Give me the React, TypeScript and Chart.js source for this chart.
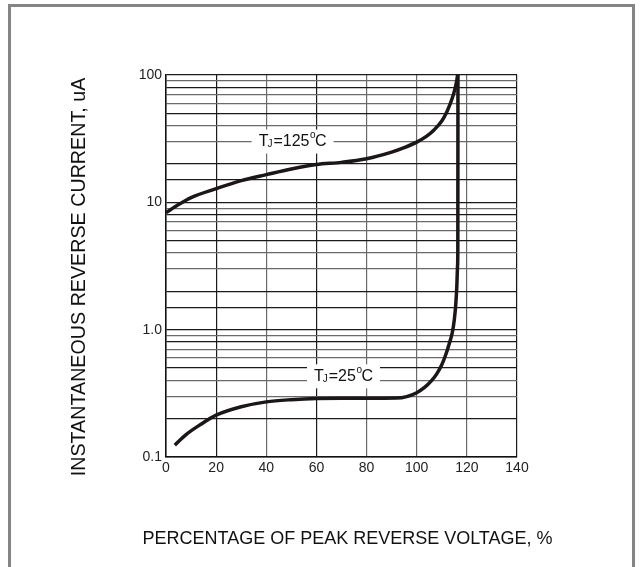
import React, { useEffect, useRef } from 'react';
import { Chart, registerables } from 'chart.js';
Chart.register(...registerables);

// ---------- data ----------
const xTickValues = [0, 20, 40, 60, 80, 100, 120, 140];
const yTickValues = [0.1, 1, 10, 100];
const yTickLabels = ['0.1', '1.0', '10', '100'];

const x125 = [0, 5, 10, 20, 30, 40, 50, 60, 70, 80, 90, 95, 100, 104, 107, 110, 112, 113.5, 114.7, 115.5, 116, 116.3];
const y125 = [8.3, 9.6, 10.9, 12.8, 14.8, 16.5, 18.3, 19.8, 20.6, 22, 24.8, 26.9, 29.7, 33.1, 37.2, 43.6, 51.3, 60.3, 70.8, 81.3, 91.2, 100];

const x25 = [3.5, 8, 13.4, 20, 30, 40, 50, 60, 70, 80, 92, 96, 100, 103, 106, 108, 110, 111.5, 113, 114.2, 115, 115.6, 116, 116.3, 116.4, 116.45];
const y25 = [0.124, 0.15, 0.178, 0.213, 0.248, 0.271, 0.282, 0.288, 0.289, 0.289, 0.29, 0.298, 0.32, 0.35, 0.4, 0.45, 0.53, 0.63, 0.78, 0.95, 1.2, 1.6, 2.2, 3.2, 4.5, 100];

const curveLabels = [
  { x: 50.5, y: 30, main: 'T', sub: 'J', rest: '=125', sup: 'o', unit: 'C' },
  { x: 70.8, y: 0.43, main: 'T', sub: 'J', rest: '=25', sup: 'o', unit: 'C' },
];

const xTitle = 'PERCENTAGE OF PEAK REVERSE VOLTAGE, %';
const yTitle = 'INSTANTANEOUS REVERSE CURRENT, uA';

const FONT = '"Liberation Sans", Arial, sans-serif';
const LINE = '#1c1616';

const decorPlugin = {
  id: 'decor',
  beforeDatasetsDraw(chart: any) {
    const ctx = chart.ctx;
    const xs = chart.scales.x;
    const ys = chart.scales.y;
    ctx.save();
    for (const l of curveLabels) {
      const big = '16px ' + FONT;
      const small = '10px ' + FONT;
      ctx.font = big;
      const wT = ctx.measureText(l.main).width;
      const wR = ctx.measureText(l.rest).width;
      const wC = ctx.measureText(l.unit).width;
      ctx.font = small;
      const wJ = ctx.measureText(l.sub).width;
      const wO = ctx.measureText(l.sup).width;
      const total = wT + wJ + wR + wO + wC;
      const cx = xs.getPixelForValue(l.x);
      const cy = ys.getPixelForValue(l.y);
      ctx.fillStyle = '#ffffff';
      ctx.fillRect(cx - total / 2 - 7, cy - 12, total + 14, 24);
      ctx.fillStyle = '#111';
      ctx.textBaseline = 'middle';
      ctx.textAlign = 'left';
      let px = cx - total / 2;
      ctx.font = big;
      ctx.fillText(l.main, px, cy);
      px += wT;
      ctx.font = small;
      ctx.fillText(l.sub, px - 1, cy + 3);
      px += wJ;
      ctx.font = big;
      ctx.fillText(l.rest, px, cy);
      px += wR;
      ctx.font = small;
      ctx.fillText(l.sup, px + 0.5, cy - 6);
      px += wO;
      ctx.font = big;
      ctx.fillText(l.unit, px, cy);
    }
    ctx.restore();
  },
  afterDraw(chart: any) {
    const ctx = chart.ctx;
    ctx.save();
    // frame
    ctx.strokeStyle = '#858585';
    ctx.lineWidth = 3;
    ctx.beginPath();
    ctx.moveTo(9.5, 567);
    ctx.lineTo(9.5, 5.5);
    ctx.lineTo(633.5, 5.5);
    ctx.lineTo(633.5, 567);
    ctx.stroke();
    // titles
    ctx.fillStyle = '#111';
    ctx.textAlign = 'center';
    ctx.textBaseline = 'middle';
    ctx.font = '18px ' + FONT;
    ctx.fillText(xTitle, 347.5, 539);
    ctx.translate(80, 277);
    ctx.rotate(-Math.PI / 2);
    ctx.font = '19.7px ' + FONT;
    ctx.fillText(yTitle, 0, 0);
    ctx.restore();
  },
};

function minorDark(v: number) {
  const e = Math.floor(Math.log10(v) + 1e-9);
  const s = Math.round(v / Math.pow(10, e));
  return s === 1 || s === 2 || s === 5 || s === 8;
}

export default function App() {
  const ref = useRef<HTMLCanvasElement>(null);
  useEffect(() => {
    document.body.style.margin = '0';
    const canvas = ref.current!;
    const chart = new Chart(canvas, {
      type: 'line',
      data: {
        datasets: [
          {
            label: '125',
            data: x125.map((x, i) => ({ x, y: y125[i] })),
            borderColor: LINE,
            borderWidth: 3.5,
            pointRadius: 0,
            cubicInterpolationMode: 'monotone',
            fill: false,
          },
          {
            label: '25',
            data: x25.map((x, i) => ({ x, y: y25[i] })),
            borderColor: LINE,
            borderWidth: 3.5,
            pointRadius: 0,
            cubicInterpolationMode: 'monotone',
            fill: false,
          },
        ],
      },
      options: {
        animation: false,
        responsive: false,
        maintainAspectRatio: false,
        events: [],
        layout: { padding: { left: 126, right: 126, top: 75, bottom: 90 } },
        plugins: { legend: { display: false }, tooltip: { enabled: false }, title: { display: false } },
        scales: {
          x: {
            type: 'linear',
            min: 0,
            max: 140,
            afterBuildTicks: (s: any) => {
              s.ticks = xTickValues.map((v) => ({ value: v }));
            },
            afterFit: (s: any) => {
              s.height = 20;
            },
            ticks: {
              autoSkip: false,
              maxRotation: 0,
              padding: 3,
              color: '#222',
              font: { family: FONT, size: 14 },
            },
            grid: {
              drawTicks: false,
              lineWidth: 1.2,
              color: (c: any) => {
                const v = c.tick && c.tick.value;
                return v === 20 || v === 60 || v === 0 || v === 140 ? '#1a1a1a' : '#6a6a6a';
              },
            },
            border: { display: true, color: '#111', width: 1.5 },
          },
          y: {
            type: 'logarithmic',
            min: 0.1,
            max: 100,
            afterFit: (s: any) => {
              s.width = 40;
            },
            ticks: {
              autoSkip: false,
              padding: 4,
              color: '#222',
              font: { family: FONT, size: 14 },
              callback: (v: any) => {
                const idx = yTickValues.findIndex((t) => Math.abs(t - v) < 1e-9 * Math.max(1, t));
                return idx >= 0 ? yTickLabels[idx] : '';
              },
            },
            grid: {
              drawTicks: false,
              lineWidth: 1.2,
              color: (c: any) => {
                const v = c.tick && c.tick.value;
                if (!v) return '#333';
                return minorDark(v) ? '#1a1a1a' : '#6a6a6a';
              },
            },
            border: { display: true, color: '#111', width: 1.5 },
          },
        },
      },
      plugins: [decorPlugin],
    } as any);
    return () => chart.destroy();
  }, []);
  return <canvas ref={ref} width={643} height={567} style={{ display: 'block' }} />;
}
